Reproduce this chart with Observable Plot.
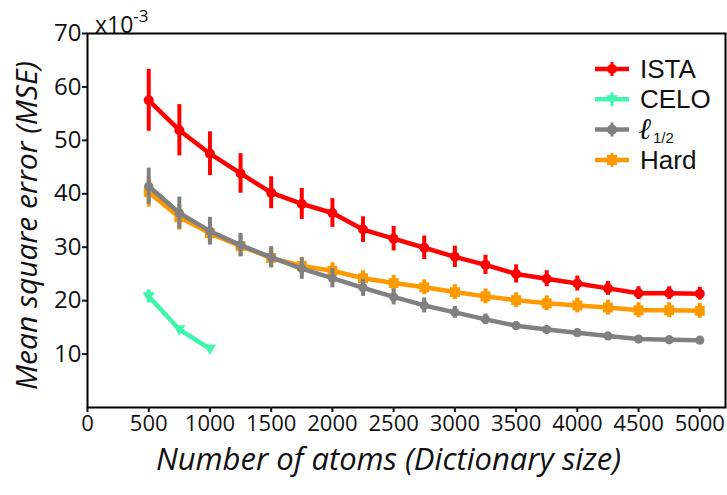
<!DOCTYPE html>
<html>
<head>
<meta charset="utf-8">
<script src="https://cdn.jsdelivr.net/npm/d3@7"></script>
<script src="https://cdn.jsdelivr.net/npm/@observablehq/plot@0.6"></script>
<style>
  html, body { margin: 0; padding: 0; background: #fff; }
  #wrap { position: relative; width: 727px; height: 495px; }
  #wrap > svg g[aria-label="x-axis tick label"] { font-size: 22px !important; }
  #wrap > svg g[aria-label="y-axis tick label"] { font-size: 24px !important; }
  #legend { position: absolute; left: 590px; top: 50px; }
  #exp { position: absolute; left: 95px; top: 3px; font-family: "Open Sans", sans-serif; font-size: 23px; line-height: 30px; color: #111; }
  #exp sup { font-size: 17px; position: relative; top: -2px; }
</style>
</head>
<body>
<div id="wrap"></div>
<script>
const sizes = [500, 750, 1000, 1250, 1500, 1750, 2000, 2250, 2500, 2750, 3000, 3250, 3500, 3750, 4000, 4250, 4500, 4750, 5000];
const istaMean = [57.5, 51.9, 47.5, 43.8, 40.2, 38.1, 36.4, 33.3, 31.6, 29.9, 28.2, 26.7, 25.0, 24.1, 23.2, 22.3, 21.4, 21.4, 21.3];
const istaErr  = [5.8, 4.8, 4.1, 3.7, 3.0, 2.9, 2.7, 2.4, 2.3, 2.2, 2.0, 1.8, 1.7, 1.5, 1.4, 1.3, 1.2, 1.2, 1.2];
const hardMean = [40.3, 35.6, 32.6, 30.2, 28.0, 26.5, 25.6, 24.2, 23.3, 22.5, 21.6, 20.8, 20.1, 19.5, 19.1, 18.7, 18.2, 18.2, 18.1];
const hardErr  = [2.8, 2.4, 2.1, 1.9, 1.7, 1.6, 1.5, 1.4, 1.4, 1.4, 1.4, 1.4, 1.4, 1.4, 1.4, 1.4, 1.4, 1.4, 1.4];
const halfMean = [41.4, 36.4, 33.0, 30.4, 28.1, 26.0, 24.2, 22.4, 20.7, 19.1, 17.8, 16.5, 15.3, 14.6, 14.0, 13.4, 12.8, 12.7, 12.6];
const halfErr  = [3.4, 3.0, 2.6, 2.2, 2.0, 2.0, 1.8, 1.6, 1.5, 1.4, 1.1, 1.0, 0.8, 0.6, 0.5, 0.4, 0.3, 0.3, 0.3];
const celoSizes = [500, 750, 1000];
const celoMean = [20.8, 14.6, 11.0];
const celoErr  = [1.2, 0.6, 0.4];
const xTicks = [0, 500, 1000, 1500, 2000, 2500, 3000, 3500, 4000, 4500, 5000];
const yTicks = [10, 20, 30, 40, 50, 60, 70];
const legendLabels = ["ISTA", "CELO", "\u2113", "Hard"];

const colors = {ista: "#ff0000", celo: "#40f5ae", half: "#808080", hard: "#ff9900"};

const mk = (xs, m, e) => xs.map((x, i) => ({x, y: m[i], lo: m[i] - e[i], hi: m[i] + e[i]}));
const ista = mk(sizes, istaMean, istaErr);
const hard = mk(sizes, hardMean, hardErr);
const half = mk(sizes, halfMean, halfErr);
const celo = mk(celoSizes, celoMean, celoErr);

const triangleDown = {
  draw(context, size) {
    const s = Math.sqrt(size * 1.3);
    const h = s * 0.87;
    context.moveTo(0, h * 0.6);
    context.lineTo(s / 2, -h * 0.4);
    context.lineTo(-s / 2, -h * 0.4);
    context.closePath();
  }
};

function series(data, color, symbol, r) {
  return [
    Plot.ruleX(data, {x: "x", y1: "lo", y2: "hi", stroke: color, strokeWidth: 4}),
    Plot.line(data, {x: "x", y: "y", stroke: color, strokeWidth: 4.5}),
    Plot.dot(data, {x: "x", y: "y", fill: color, symbol, r})
  ];
}

const chart = Plot.plot({
  width: 727,
  height: 495,
  marginLeft: 87,
  marginRight: 2,
  marginTop: 33,
  marginBottom: 88,
  style: {fontFamily: "'Open Sans', sans-serif", fontSize: "22px", color: "#111", background: "#fff"},
  x: {domain: [0, 5210]},
  y: {domain: [0, 70]},
  marks: [
    ...series(celo, colors.celo, triangleDown, 6),
    ...series(hard, colors.hard, "square", 5.6),
    ...series(half, colors.half, "circle", 4.6),
    ...series(ista, colors.ista, "circle", 5),
    Plot.frame({stroke: "#000", strokeWidth: 2}),
    Plot.axisX({ticks: xTicks, tickSize: 5, tickPadding: 3, strokeWidth: 2, fontSize: 22, label: null, tickFormat: d => String(d)}),
    Plot.axisY({ticks: yTicks, tickSize: 5, tickPadding: 1, strokeWidth: 2, fontSize: 24, label: null}),
    Plot.text(["Number of atoms (Dictionary size)"], {frameAnchor: "bottom", text: d => d, dy: 62, dx: -18, fontSize: 31, fontStyle: "italic", fill: "#111"}),
    Plot.text(["Mean square error (MSE)"], {frameAnchor: "left", textAnchor: "middle", text: d => d, dx: -60, dy: 5, rotate: -90, fontSize: 30, fontStyle: "italic", fill: "#111"})
  ]
});

const wrap = document.getElementById("wrap");
wrap.appendChild(chart);

const exp = document.createElement("div");
exp.id = "exp";
exp.innerHTML = "x10<sup>-3</sup>";
wrap.appendChild(exp);

// legend (SVG overlay inside the axes box, top right)
const keys = ["ista", "celo", "half", "hard"];
const shapes = ["circle", "tri", "circle", "square"];
const lg = d3.create("svg").attr("id", "legend").attr("width", 137).attr("height", 130);
keys.forEach((k, i) => {
  const c = colors[k];
  const cy = 19 + i * 30.3;
  const g = lg.append("g");
  g.append("line").attr("x1", 5).attr("x2", 39).attr("y1", cy).attr("y2", cy).attr("stroke", c).attr("stroke-width", 4.5);
  g.append("line").attr("x1", 22).attr("x2", 22).attr("y1", cy - 7).attr("y2", cy + 7).attr("stroke", c).attr("stroke-width", 3);
  if (shapes[i] === "circle") g.append("circle").attr("cx", 22).attr("cy", cy).attr("r", 5).attr("fill", c);
  else if (shapes[i] === "square") g.append("rect").attr("x", 17).attr("y", cy - 5).attr("width", 10).attr("height", 10).attr("fill", c);
  else g.append("path").attr("d", `M16.5,${cy - 4} L27.5,${cy - 4} L22,${cy + 5} Z`).attr("fill", c);
  if (k === "half") {
    g.append("text").attr("x", 49).attr("y", cy + 9).attr("fill", "#111")
      .attr("font-family", "'DejaVu Serif', serif").attr("font-style", "italic").attr("font-weight", "bold").attr("font-size", 30).text(legendLabels[i]);
    g.append("text").attr("x", 63).attr("y", cy + 13).attr("fill", "#111")
      .attr("font-family", "'Liberation Sans', Arial, sans-serif").attr("font-size", 15).text("1/2");
  } else {
    g.append("text").attr("x", 50).attr("y", cy + 9).attr("fill", "#111")
      .attr("font-family", "'Liberation Sans', Arial, sans-serif").attr("font-size", 26).text(legendLabels[i]);
  }
});
wrap.appendChild(lg.node());
</script>
</body>
</html>
